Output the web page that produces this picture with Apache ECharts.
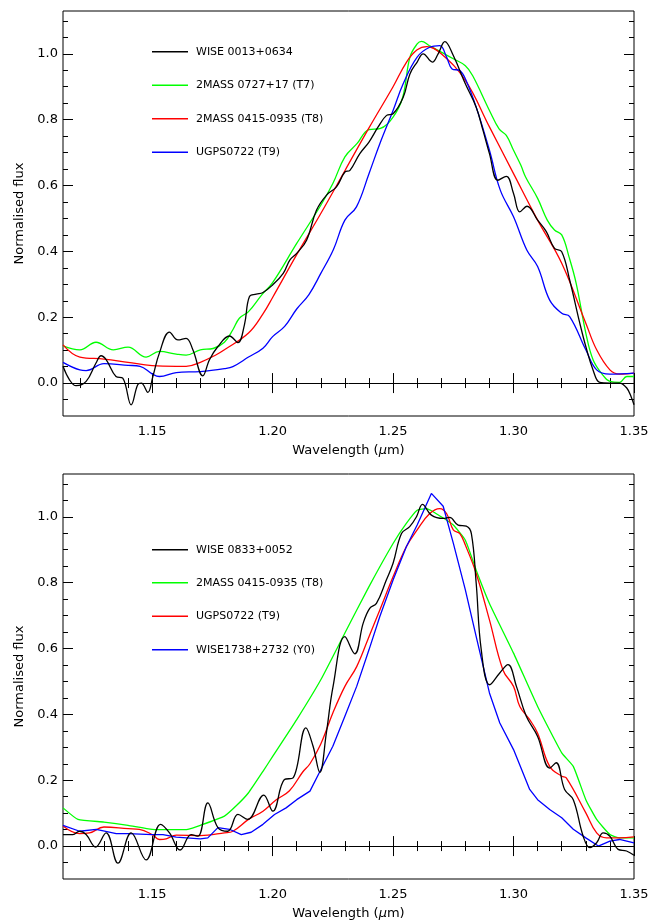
<!DOCTYPE html>
<html>
<head>
<meta charset="utf-8">
<script src="https://cdn.jsdelivr.net/npm/echarts@6/dist/echarts.min.js"></script>
<style>
html, body { margin: 0; padding: 0; background: #fff; }
#chart { width: 662px; height: 922px; }
</style>
</head>
<body>
<div id="chart"></div>
<script>
// axis ranges and ticks
var X_MIN = 1.113, X_MAX = 1.35;
var Y_MIN = -0.1, Y_MAX = 1.13;
var xMajor = [1.15, 1.20, 1.25, 1.30, 1.35];
var xMinor = [1.12, 1.13, 1.14, 1.16, 1.17, 1.18, 1.19, 1.21, 1.22, 1.23, 1.24, 1.26, 1.27, 1.28, 1.29, 1.31, 1.32, 1.33, 1.34];
var yMajor = [0, 0.2, 0.4, 0.6, 0.8, 1.0];
var yMinor = [-0.05, 0.05, 0.1, 0.15, 0.25, 0.3, 0.35, 0.45, 0.5, 0.55, 0.65, 0.7, 0.75, 0.85, 0.9, 0.95, 1.05, 1.1];

// top panel names
var topNames = ['WISE 0013+0634', '2MASS 0727+17 (T7)', '2MASS 0415-0935 (T8)', 'UGPS0722 (T9)'];
// bottom panel names (trailing space keeps them distinct from the top ones)
var botNames = ['WISE 0833+0052', '2MASS 0415-0935 (T8) ', 'UGPS0722 (T9) ', 'WISE1738+2732 (Y0)'];

// top panel spectra [wavelength, flux]
var wise0013 = [[1.113,0.051],[1.1157,0.01],[1.1184,-0.008],[1.1226,0.005],[1.1267,0.061],[1.1288,0.083],[1.1309,0.071],[1.135,0.02],[1.1378,0.015],[1.1413,-0.066],[1.144,-0.005],[1.1455,0.0],[1.1482,-0.028],[1.1503,0.02],[1.153,0.091],[1.1572,0.155],[1.1607,0.131],[1.1641,0.136],[1.1669,0.101],[1.171,0.022],[1.1738,0.071],[1.1773,0.111],[1.1821,0.143],[1.1856,0.123],[1.1883,0.177],[1.1904,0.263],[1.1932,0.27],[1.196,0.275],[1.20,0.298],[1.2044,0.333],[1.2072,0.374],[1.21,0.394],[1.2141,0.434],[1.2182,0.525],[1.2224,0.571],[1.2265,0.596],[1.23,0.641],[1.2321,0.646],[1.2362,0.697],[1.24,0.732],[1.2438,0.778],[1.2473,0.813],[1.25,0.818],[1.2542,0.868],[1.257,0.939],[1.26,0.975],[1.2625,1.0],[1.2663,0.975],[1.2687,1.0],[1.2715,1.037],[1.275,0.995],[1.28,0.909],[1.2845,0.838],[1.2873,0.768],[1.29,0.697],[1.2935,0.616],[1.297,0.628],[1.30,0.576],[1.3026,0.52],[1.3056,0.537],[1.31,0.495],[1.3136,0.46],[1.317,0.409],[1.32,0.399],[1.3233,0.313],[1.3275,0.182],[1.33,0.111],[1.333,0.04],[1.3358,0.002],[1.34,0.0],[1.344,0.0],[1.347,-0.015],[1.349,-0.045],[1.35,-0.066]];
var m0727 = [[1.113,0.113],[1.12,0.101],[1.1267,0.124],[1.1339,0.101],[1.14,0.109],[1.1475,0.079],[1.153,0.096],[1.16,0.088],[1.1641,0.085],[1.17,0.101],[1.1753,0.105],[1.18,0.124],[1.1835,0.162],[1.1862,0.197],[1.19,0.217],[1.1955,0.268],[1.20,0.305],[1.21,0.424],[1.22,0.54],[1.225,0.606],[1.23,0.687],[1.235,0.727],[1.24,0.77],[1.2445,0.773],[1.25,0.808],[1.254,0.868],[1.257,0.99],[1.26,1.03],[1.2618,1.038],[1.265,1.025],[1.27,1.005],[1.275,0.985],[1.28,0.964],[1.283,0.934],[1.29,0.828],[1.294,0.772],[1.297,0.752],[1.30,0.707],[1.303,0.662],[1.305,0.626],[1.31,0.561],[1.314,0.495],[1.317,0.465],[1.32,0.45],[1.323,0.384],[1.326,0.303],[1.33,0.152],[1.333,0.071],[1.337,0.025],[1.34,0.005],[1.344,0.002],[1.347,0.02],[1.35,0.02]];
var m0415Top = [[1.113,0.116],[1.12,0.079],[1.13,0.073],[1.14,0.063],[1.15,0.053],[1.16,0.051],[1.1641,0.051],[1.17,0.063],[1.1766,0.086],[1.18,0.101],[1.19,0.152],[1.196,0.21],[1.20,0.26],[1.21,0.39],[1.22,0.515],[1.23,0.645],[1.24,0.775],[1.25,0.90],[1.2556,0.975],[1.26,1.012],[1.264,1.022],[1.27,1.0],[1.28,0.919],[1.29,0.778],[1.30,0.636],[1.31,0.495],[1.32,0.364],[1.33,0.182],[1.3345,0.101],[1.34,0.04],[1.344,0.027],[1.35,0.03]];
var ugpsTop = [[1.113,0.063],[1.12,0.04],[1.1226,0.038],[1.13,0.059],[1.14,0.054],[1.145,0.051],[1.15,0.028],[1.153,0.02],[1.16,0.032],[1.17,0.035],[1.18,0.044],[1.1835,0.05],[1.19,0.079],[1.196,0.106],[1.20,0.141],[1.205,0.172],[1.21,0.225],[1.215,0.268],[1.22,0.333],[1.2252,0.405],[1.23,0.495],[1.2348,0.535],[1.24,0.636],[1.2445,0.727],[1.25,0.828],[1.2542,0.909],[1.26,0.99],[1.2652,1.02],[1.2694,1.025],[1.2722,0.99],[1.2745,0.954],[1.2777,0.949],[1.28,0.924],[1.2845,0.838],[1.29,0.707],[1.2945,0.586],[1.30,0.505],[1.3055,0.404],[1.31,0.354],[1.315,0.252],[1.32,0.212],[1.3233,0.202],[1.33,0.101],[1.3345,0.04],[1.34,0.027],[1.35,0.03]];

// bottom panel spectra [wavelength, flux]
var wise0833 = [[1.113,0.035],[1.1171,0.035],[1.1199,0.045],[1.1226,0.035],[1.1265,-0.003],[1.1309,0.04],[1.1358,-0.052],[1.1413,0.04],[1.1475,-0.042],[1.1535,0.066],[1.1572,0.04],[1.1616,-0.012],[1.1662,0.035],[1.169,0.03],[1.1731,0.131],[1.1773,0.056],[1.1814,0.045],[1.1856,0.096],[1.1897,0.081],[1.1963,0.155],[1.2001,0.106],[1.2049,0.202],[1.2085,0.207],[1.2138,0.359],[1.2168,0.303],[1.2196,0.224],[1.2223,0.343],[1.2251,0.485],[1.23,0.636],[1.2341,0.584],[1.2376,0.677],[1.2403,0.722],[1.2431,0.737],[1.2472,0.808],[1.25,0.859],[1.2535,0.949],[1.2569,0.97],[1.2597,1.0],[1.2622,1.038],[1.2659,1.005],[1.2708,0.995],[1.2735,0.998],[1.277,0.975],[1.2804,0.972],[1.2825,0.949],[1.2845,0.798],[1.2866,0.596],[1.2901,0.49],[1.2942,0.525],[1.2977,0.551],[1.3012,0.485],[1.3053,0.394],[1.31,0.333],[1.315,0.237],[1.3177,0.253],[1.3212,0.172],[1.3248,0.141],[1.3289,0.03],[1.3317,-0.005],[1.3345,0.01],[1.3372,0.04],[1.34,0.03],[1.3434,-0.01],[1.3469,-0.015],[1.35,-0.028]];
var m0415Bot = [[1.113,0.116],[1.1192,0.081],[1.13,0.073],[1.14,0.063],[1.15,0.051],[1.16,0.05],[1.1648,0.051],[1.17,0.063],[1.18,0.091],[1.185,0.123],[1.19,0.162],[1.196,0.227],[1.2001,0.273],[1.21,0.384],[1.22,0.505],[1.23,0.647],[1.24,0.788],[1.25,0.919],[1.2555,0.98],[1.26,1.02],[1.2639,1.025],[1.27,1.0],[1.275,0.975],[1.28,0.929],[1.2845,0.838],[1.29,0.737],[1.30,0.586],[1.31,0.424],[1.32,0.283],[1.3248,0.242],[1.33,0.141],[1.3345,0.081],[1.34,0.035],[1.344,0.025],[1.35,0.025]];
var ugpsBot = [[1.113,0.061],[1.1199,0.038],[1.124,0.04],[1.13,0.058],[1.14,0.053],[1.1447,0.051],[1.15,0.035],[1.153,0.02],[1.1558,0.022],[1.16,0.033],[1.17,0.032],[1.18,0.04],[1.1835,0.045],[1.19,0.081],[1.196,0.106],[1.2014,0.14],[1.207,0.168],[1.2125,0.225],[1.2155,0.25],[1.22,0.31],[1.225,0.404],[1.23,0.485],[1.2349,0.545],[1.24,0.636],[1.2445,0.717],[1.25,0.818],[1.2555,0.909],[1.26,0.96],[1.2652,1.01],[1.2694,1.025],[1.2722,1.01],[1.275,0.96],[1.2777,0.949],[1.28,0.914],[1.2845,0.828],[1.29,0.687],[1.2956,0.535],[1.30,0.485],[1.3026,0.424],[1.3067,0.384],[1.31,0.343],[1.315,0.242],[1.32,0.212],[1.3219,0.207],[1.33,0.101],[1.3345,0.04],[1.3386,0.025],[1.344,0.025],[1.35,0.028]];
var wise1738 = [[1.113,0.063],[1.1199,0.045],[1.1268,0.051],[1.1351,0.038],[1.14,0.038],[1.15,0.035],[1.1545,0.035],[1.16,0.027],[1.17,0.022],[1.1731,0.025],[1.1773,0.056],[1.1821,0.051],[1.187,0.035],[1.1911,0.042],[1.196,0.066],[1.2008,0.096],[1.2056,0.116],[1.21,0.141],[1.2155,0.167],[1.22,0.232],[1.225,0.303],[1.23,0.394],[1.2349,0.485],[1.24,0.596],[1.2445,0.697],[1.25,0.808],[1.2555,0.909],[1.26,0.975],[1.2659,1.071],[1.2708,1.032],[1.275,0.92],[1.28,0.778],[1.2845,0.636],[1.29,0.465],[1.2943,0.374],[1.30,0.293],[1.3067,0.172],[1.31,0.141],[1.315,0.111],[1.32,0.086],[1.3248,0.051],[1.33,0.025],[1.3352,0.0],[1.34,0.015],[1.344,0.02],[1.35,0.01]];

var FONT = 'DejaVu Sans';
var lineColors = ['#000000', '#00ff00', '#ff0000', '#0000ff'];
// legend row centres (px) for each panel
var topRows = [51, 84.5, 118, 151.5];
var botRows = [549, 582, 615.5, 649];

function tickAxis(base, extra) {
    return Object.assign({}, base, extra);
}

function xAxes(g) {
    var base = { gridIndex: g, type: 'value', min: X_MIN, max: X_MAX,
        axisLine: { show: false }, splitLine: { show: false } };
    return [
        tickAxis(base, {
            position: 'bottom',
            axisTick: { inside: true, length: 10, customValues: xMajor, lineStyle: { color: '#000' } },
            axisLabel: { customValues: xMajor, margin: 9, color: '#000', fontFamily: FONT, fontSize: 13,
                formatter: function (v) { return v.toFixed(2); } },
            name: 'Wavelength ({i|μ}m)', nameLocation: 'middle', nameGap: 28,
            nameTextStyle: { color: '#000', fontFamily: FONT, fontSize: 13,
                rich: { i: { fontStyle: 'italic', fontFamily: FONT, fontSize: 13, color: '#000' } } }
        }),
        tickAxis(base, { position: 'bottom', axisLabel: { show: false },
            axisTick: { inside: true, length: 5, customValues: xMinor, lineStyle: { color: '#000' } } }),
        tickAxis(base, { position: 'top', axisLabel: { show: false },
            axisTick: { inside: true, length: 10, customValues: xMajor, lineStyle: { color: '#000' } } }),
        tickAxis(base, { position: 'top', axisLabel: { show: false },
            axisTick: { inside: true, length: 5, customValues: xMinor, lineStyle: { color: '#000' } } })
    ];
}

function yAxes(g) {
    var base = { gridIndex: g, type: 'value', min: Y_MIN, max: Y_MAX,
        axisLine: { show: false }, splitLine: { show: false } };
    return [
        tickAxis(base, {
            position: 'left',
            axisTick: { inside: true, length: 10, customValues: yMajor, lineStyle: { color: '#000' } },
            axisLabel: { customValues: yMajor, margin: 5, color: '#000', fontFamily: FONT, fontSize: 13,
                formatter: function (v) { return v.toFixed(1); } },
            name: 'Normalised flux', nameLocation: 'middle', nameGap: 36,
            nameTextStyle: { color: '#000', fontFamily: FONT, fontSize: 13 }
        }),
        tickAxis(base, { position: 'left', axisLabel: { show: false },
            axisTick: { inside: true, length: 5, customValues: yMinor, lineStyle: { color: '#000' } } }),
        tickAxis(base, { position: 'right', axisLabel: { show: false },
            axisTick: { inside: true, length: 10, customValues: yMajor, lineStyle: { color: '#000' } } }),
        tickAxis(base, { position: 'right', axisLabel: { show: false },
            axisTick: { inside: true, length: 5, customValues: yMinor, lineStyle: { color: '#000' } } })
    ];
}

function spectrum(name, data, color, g, smooth) {
    return {
        name: name, type: 'line', data: data,
        xAxisIndex: g * 4, yAxisIndex: g * 4,
        symbol: 'none', smooth: smooth, color: color,
        lineStyle: { width: 1.3, color: color },
        silent: true
    };
}

function zeroLine(g) {
    return {
        type: 'line', data: [], xAxisIndex: g * 4, yAxisIndex: g * 4, silent: true,
        markLine: { silent: true, symbol: ['none', 'none'], label: { show: false },
            lineStyle: { color: '#000', width: 1, type: 'solid' }, data: [{ yAxis: 0 }] }
    };
}

// one legend per entry so each row sits where the reference has it
function legendItems(names, rows) {
    return names.map(function (n, i) {
        return {
            data: [n], left: 152, top: rows[i] - 4.75, padding: 0,
            icon: 'rect', itemWidth: 36, itemHeight: 1.5,
            selectedMode: false,
            textStyle: { color: '#000', fontFamily: FONT, fontSize: 11, padding: [0, 0, 0, 3] }
        };
    });
}

var chart = echarts.init(document.getElementById('chart'), null, { renderer: 'canvas' });
chart.setOption({
    animation: false,
    backgroundColor: '#fff',
    grid: [
        { left: 63, top: 11, width: 571, height: 405, show: true, borderColor: '#000', borderWidth: 1 },
        { left: 63, top: 474, width: 571, height: 405, show: true, borderColor: '#000', borderWidth: 1 }
    ],
    legend: legendItems(topNames, topRows).concat(legendItems(botNames, botRows)),
    xAxis: xAxes(0).concat(xAxes(1)),
    yAxis: yAxes(0).concat(yAxes(1)),
    series: [
        zeroLine(0),
        spectrum(topNames[1], m0727, lineColors[1], 0, 0.4),
        spectrum(topNames[2], m0415Top, lineColors[2], 0, 0.4),
        spectrum(topNames[3], ugpsTop, lineColors[3], 0, 0.4),
        spectrum(topNames[0], wise0013, lineColors[0], 0, 0.4),
        zeroLine(1),
        spectrum(botNames[1], m0415Bot, lineColors[1], 1, 0.15),
        spectrum(botNames[2], ugpsBot, lineColors[2], 1, 0.4),
        spectrum(botNames[3], wise1738, lineColors[3], 1, false),
        spectrum(botNames[0], wise0833, lineColors[0], 1, 0.4)
    ]
});
</script>
</body>
</html>
